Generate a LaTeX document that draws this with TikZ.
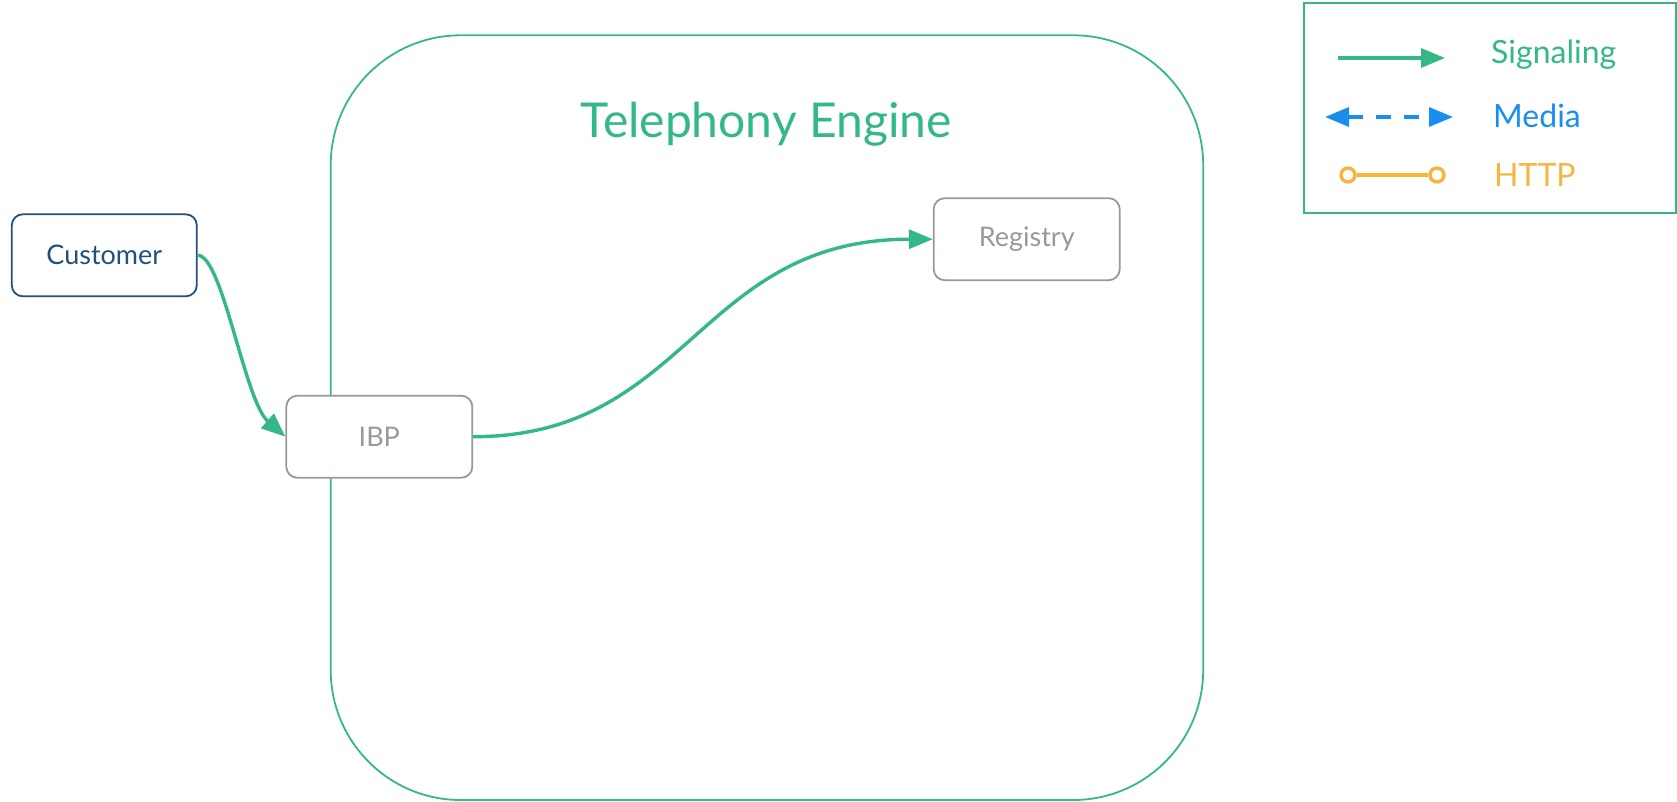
\documentclass[tikz,border=0pt]{standalone}
\usepackage{fontspec}
\setmainfont{Lato}
\usetikzlibrary{arrows.meta}
\definecolor{sig}{RGB}{52,184,134}
\definecolor{med}{RGB}{24,142,238}
\definecolor{http}{RGB}{245,181,63}
\definecolor{cust}{RGB}{36,80,122}
\definecolor{gbox}{RGB}{153,153,153}
\tikzset{
  box/.style={draw, rounded corners=11pt, line width=1.8pt, fill=white,
    minimum width=186pt, minimum height=82pt, inner sep=0pt, font=\fontsize{27}{31}\selectfont},
  graybox/.style={box, draw=gbox, text=gbox},
  custbox/.style={box, draw=cust, text=cust, minimum width=185pt},
  sigline/.style={draw=sig, line width=3.4pt, -{Triangle[length=24pt,width=19pt]}},
  medline/.style={draw=med, line width=3.4pt, dash pattern=on 15pt off 13pt, {Triangle[length=24pt,width=19pt]}-{Triangle[length=24pt,width=19pt]}},
  httpline/.style={draw=http, line width=3.4pt},
  httpdot/.style={circle, draw=http, line width=3.4pt, fill=white, minimum size=14pt, inner sep=0pt},
  legtext/.style={anchor=base west, inner sep=0pt, font=\fontsize{32}{37}\selectfont},
}
\begin{document}
\begin{tikzpicture}[x=1pt, y=-1pt]
\useasboundingbox (0,0) rectangle (1677,802);
% Telephony Engine container
\draw[sig, line width=1.8pt, rounded corners=130pt] (330.7,35.3) rectangle (1203.2,800);
\node[text=sig, font=\fontsize{48}{56}\selectfont] (title) at (766,124) {Telephony Engine};
% nodes
\node[custbox] (customer) at (104.3,255.3) {Customer};
\node[graybox] (ibp) at (379.3,436.7) {IBP};
\node[graybox] (registry) at (1026.7,239.2) {\raisebox{-1.5pt}{Registry}};
% connectors
\draw[sigline] (customer.east) .. controls +(25,0) and +(-41,-36) .. (ibp.west);
\draw[sigline] (ibp.east) .. controls +(215,0) and +(-235,0) .. (registry.west);
% legend
\draw[sig, line width=1.8pt] (1304,3) rectangle (1676,213);
\coordinate (s1) at (1338,58);
\coordinate (s2) at (1445,58);
\draw[sigline] (s1) -- (s2);
\node[legtext, text=sig] (lsig) at (1491,64) {Signaling};
\coordinate (m1) at (1325,117);
\coordinate (m2) at (1453,117);
\draw[medline] (m1) -- (m2);
\node[legtext, text=med] (lmed) at (1493,128) {Media};
\node[httpdot] (h1) at (1348,175) {};
\node[httpdot] (h2) at (1437,175) {};
\draw[httpline] (h1) -- (h2);
\node[legtext, text=http] (lhttp) at (1494,187) {HTTP};
\end{tikzpicture}
\end{document}
